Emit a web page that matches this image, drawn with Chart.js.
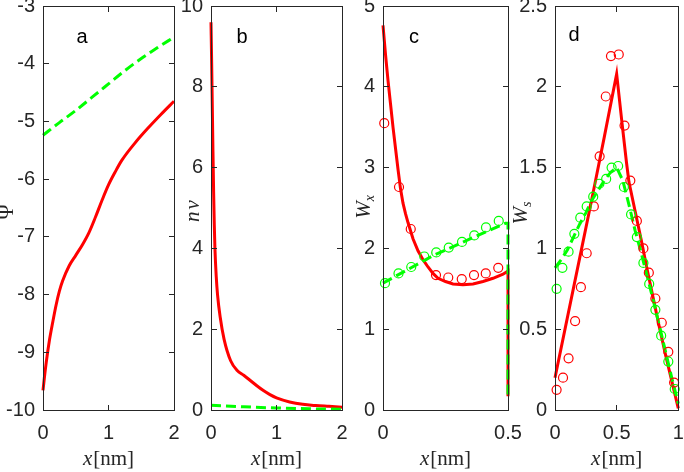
<!DOCTYPE html>
<html>
<head>
<meta charset="utf-8">
<script src="https://cdn.jsdelivr.net/npm/chart.js@4.4.0/dist/chart.umd.min.js"></script>
<style>
  html, body { margin: 0; padding: 0; background: #fff; }
  #wrap { position: relative; width: 684px; height: 472px; }
  #wrap canvas { position: absolute; left: 0; top: 0; }
  #frame { position: absolute; left: 0; top: 0; width: 684px; height: 472px; pointer-events: none; }
  #frame .seg { position: absolute; background: #262626; }
</style>
</head>
<body>
<div id="wrap">
  <canvas id="panelA" width="684" height="472"></canvas>
  <canvas id="panelB" width="684" height="472"></canvas>
  <canvas id="panelC" width="684" height="472"></canvas>
  <canvas id="panelD" width="684" height="472"></canvas>
  <div id="frame"></div>
</div>
<script>
// --- Daten ---
const panelLetters = ['a', 'b', 'c', 'd'];

// Panel a: Psi
const aRedX = [0, 0.02, 0.05, 0.1, 0.15, 0.2, 0.25, 0.3, 0.4, 0.5, 0.6, 0.7, 0.8, 0.9, 1.0, 1.1, 1.2, 1.4, 1.6, 1.8, 2.0];
const aRedY = [-9.66, -9.45, -9.17, -8.78, -8.47, -8.18, -7.94, -7.76, -7.5, -7.32, -7.14, -6.93, -6.66, -6.37, -6.1, -5.88, -5.68, -5.38, -5.12, -4.88, -4.65];
const aGreenX = [0, 0.25, 0.5, 0.75, 1.0, 1.25, 1.5, 1.75, 2.0];
const aGreenY = [-5.24, -5.02, -4.81, -4.58, -4.35, -4.12, -3.91, -3.72, -3.54];
const aXTicks = [0, 1, 2];
const aYTicks = [-10, -9, -8, -7, -6, -5, -4, -3];

// Panel b: nv
const bRedX = [0, 0.01, 0.02, 0.03, 0.04, 0.05, 0.06, 0.08, 0.1, 0.14, 0.2, 0.3, 0.4, 0.5, 0.6, 0.7, 0.8, 0.9, 1.0, 1.2, 1.4, 1.6, 1.8, 2.0];
const bRedY = [9.6, 8.6, 7.5, 6.4, 5.4, 4.6, 4.0, 3.3, 2.85, 2.3, 1.75, 1.22, 0.98, 0.86, 0.73, 0.6, 0.48, 0.38, 0.3, 0.2, 0.14, 0.11, 0.09, 0.07];
const bGreenX = [0, 0.5, 1.0, 1.5, 2.0];
const bGreenY = [0.12, 0.08, 0.05, 0.03, 0.02];
const bXTicks = [0, 1, 2];
const bYTicks = [0, 2, 4, 6, 8, 10];

// Panel c: W_x
const cRedX = [0, 0.01, 0.02, 0.03, 0.04, 0.05, 0.06, 0.07, 0.08, 0.09, 0.1, 0.12, 0.14, 0.16, 0.18, 0.2, 0.22, 0.25, 0.28, 0.32, 0.36, 0.4, 0.44, 0.48, 0.5, 0.5];
const cRedY = [4.76, 4.4, 4.08, 3.79, 3.5, 3.24, 2.98, 2.74, 2.56, 2.43, 2.32, 2.12, 1.97, 1.86, 1.77, 1.69, 1.63, 1.59, 1.56, 1.55, 1.56, 1.59, 1.63, 1.68, 1.72, 0.17];
const cGreenX = [0, 0.1, 0.2, 0.3, 0.4, 0.49, 0.5, 0.5];
const cGreenY = [1.57, 1.74, 1.91, 2.05, 2.19, 2.31, 2.31, 0.17];
const cRedCircX = [0.005, 0.064, 0.111, 0.212, 0.261, 0.315, 0.364, 0.411, 0.461];
const cRedCircY = [3.55, 2.76, 2.24, 1.67, 1.64, 1.62, 1.67, 1.69, 1.76];
const cGreenCircX = [0.008, 0.062, 0.113, 0.165, 0.213, 0.263, 0.316, 0.365, 0.412, 0.463];
const cGreenCircY = [1.57, 1.69, 1.77, 1.90, 1.95, 2.01, 2.08, 2.16, 2.26, 2.34];
const cXTicks = [0, 0.5];
const cYTicks = [0, 1, 2, 3, 4, 5];

// Panel d: W_s
const dRedX = [0, 0.1, 0.2, 0.3, 0.4, 0.5, 0.54, 0.58, 0.6, 0.65, 0.7, 0.75, 0.8, 0.85, 0.9, 0.95, 1.0];
const dRedY = [0.2, 0.57, 0.94, 1.31, 1.69, 2.08, 1.8, 1.53, 1.41, 1.23, 1.05, 0.86, 0.68, 0.5, 0.33, 0.17, 0.01];
const dGreenX = [0, 0.05, 0.1, 0.15, 0.2, 0.25, 0.3, 0.35, 0.4, 0.45, 0.5, 0.55, 0.6, 0.65, 0.7, 0.75, 0.8, 0.85, 0.9, 0.95, 1.0];
const dGreenY = [0.88, 0.93, 0.99, 1.07, 1.15, 1.22, 1.3, 1.36, 1.42, 1.47, 1.5, 1.42, 1.27, 1.11, 0.97, 0.82, 0.67, 0.51, 0.35, 0.19, 0.04];
const dRedCircX = [0.013, 0.065, 0.11, 0.163, 0.21, 0.257, 0.315, 0.362, 0.412, 0.454, 0.517, 0.564, 0.611, 0.664, 0.717, 0.761, 0.814, 0.866, 0.919, 0.966];
const dRedCircY = [0.125, 0.2, 0.32, 0.55, 0.76, 0.97, 1.26, 1.57, 1.94, 2.19, 2.2, 1.76, 1.42, 1.17, 1.0, 0.85, 0.69, 0.54, 0.36, 0.17];
const dGreenCircX = [0.013, 0.06, 0.11, 0.157, 0.205, 0.257, 0.31, 0.36, 0.415, 0.459, 0.512, 0.559, 0.617, 0.664, 0.717, 0.764, 0.814, 0.861, 0.919, 0.971];
const dGreenCircY = [0.75, 0.88, 0.98, 1.09, 1.19, 1.26, 1.32, 1.40, 1.43, 1.50, 1.51, 1.38, 1.21, 1.07, 0.91, 0.78, 0.62, 0.46, 0.30, 0.13];
const dXTicks = [0, 0.5, 1];
const dYTicks = [0, 0.5, 1, 1.5, 2, 2.5];

// --- Stil ---
const RED = '#ff0000';
const GREEN = '#00ff00';
const AXIS = '#262626';
const SERIF = '"Liberation Serif", "DejaVu Serif", serif';
const SANS = '"Liberation Sans", Arial, sans-serif';

Chart.defaults.font.family = SANS;
Chart.defaults.color = AXIS;

const pts = (xs, ys) => xs.map((x, i) => ({ x: x, y: ys[i] }));

function lineSet(xs, ys, color, dashed, order, smooth) {
    return {
        data: pts(xs, ys),
        showLine: true,
        borderColor: color,
        borderWidth: 3,
        borderDash: dashed ? [10, 5] : [],
        pointRadius: 0,
        tension: 0,
        cubicInterpolationMode: smooth ? 'monotone' : 'default',
        clip: false,
        order: order
    };
}

function circleSet(xs, ys, color, order) {
    return {
        data: pts(xs, ys),
        showLine: false,
        borderColor: color,
        pointBorderColor: color,
        pointBackgroundColor: 'rgba(0,0,0,0)',
        pointRadius: 4.5,
        pointBorderWidth: 1.2,
        clip: false,
        order: order
    };
}

// Text mit gemischten Schriften (kursiv / normal / tiefgestellt)
function drawRich(ctx, parts, cx, cy, rotate) {
    ctx.save();
    ctx.translate(cx, cy);
    if (rotate) ctx.rotate(-Math.PI / 2);
    ctx.textBaseline = 'alphabetic';
    ctx.textAlign = 'left';
    ctx.fillStyle = AXIS;
    let total = 0;
    const widths = parts.map(p => { ctx.font = p.font; const w = ctx.measureText(p.text).width + (p.gap || 0); total += w; return w; });
    let x = -total / 2;
    parts.forEach((p, i) => { ctx.font = p.font; ctx.fillText(p.text, x, p.dy || 0); x += widths[i]; });
    ctx.restore();
}

// Achsentitel und Buchstaben (MATLAB-Look)
const matlabText = {
    id: 'matlabText',
    afterDraw(chart, args, o) {
        const ctx = chart.ctx;
        const a = chart.chartArea;
        const mid = (a.left + a.right) / 2;
        // x-Titel
        drawRich(ctx, [
            { text: 'x', font: 'italic 21px ' + SERIF, gap: 1 },
            { text: '[nm]', font: '21px ' + SERIF }
        ], mid, 465, false);
        // y-Titel
        drawRich(ctx, o.yTitle, a.left + o.yBase, (a.top + a.bottom) / 2 + o.yShift, true);
        // Buchstabe
        ctx.save();
        ctx.font = '20px ' + SANS;
        ctx.fillStyle = '#000';
        ctx.textAlign = 'center';
        ctx.textBaseline = 'middle';
        ctx.fillText(o.letter, a.left + o.letterX, o.letterY);
        ctx.restore();
    }
};

function makePanel(id, p) {
    const tickFont = { family: SANS, size: 20 };
    return new Chart(document.getElementById(id), {
        type: 'scatter',
        data: { datasets: p.datasets },
        options: {
            responsive: false,
            animation: false,
            events: [],
            layout: { padding: { left: p.left - 40, right: 684 - p.right, top: 6, bottom: 0 } },
            plugins: {
                legend: { display: false },
                tooltip: { enabled: false },
                matlabText: p.frame
            },
            scales: {
                x: {
                    type: 'linear',
                    min: p.xTicks[0],
                    max: p.xTicks[p.xTicks.length - 1],
                    grid: { display: false, drawTicks: false },
                    border: { display: false },
                    ticks: { font: tickFont, color: AXIS, padding: 11, maxRotation: 0, autoSkip: false,
                             callback: v => String(v) },
                    afterBuildTicks: s => { s.ticks = p.xTicks.map(v => ({ value: v })); },
                    afterFit: s => { s.height = 62; s.paddingLeft = 0; s.paddingRight = 0; }
                },
                y: {
                    type: 'linear',
                    min: p.yTicks[0],
                    max: p.yTicks[p.yTicks.length - 1],
                    grid: { display: false, drawTicks: false },
                    border: { display: false },
                    ticks: { font: tickFont, color: AXIS, padding: 8, autoSkip: false,
                             callback: v => String(v) },
                    afterBuildTicks: s => { s.ticks = p.yTicks.map(v => ({ value: v })); },
                    afterFit: s => { s.width = 40; s.paddingTop = 0; s.paddingBottom = 0; }
                }
            }
        },
        plugins: [matlabText]
    });
}

// Rahmen + Ticks nach innen als DOM-Linien, Lage aus chartArea und Skalen
function addFrame(chart) {
    const host = document.getElementById('frame');
    const a = chart.chartArea;
    const sx = chart.scales.x, sy = chart.scales.y;
    const len = 5;
    const L = Math.floor(a.left), R = Math.floor(a.right);
    const T = Math.floor(a.top), B = Math.floor(a.bottom);
    const seg = (x, y, w, h) => {
        const d = document.createElement('div');
        d.className = 'seg';
        d.style.left = x + 'px';
        d.style.top = y + 'px';
        d.style.width = w + 'px';
        d.style.height = h + 'px';
        host.appendChild(d);
    };
    seg(L, T, R - L + 1, 1);
    seg(L, B, R - L + 1, 1);
    seg(L, T, 1, B - T + 1);
    seg(R, T, 1, B - T + 1);
    sx.ticks.forEach(tk => {
        const px = Math.min(Math.max(Math.floor(sx.getPixelForValue(tk.value)), L), R);
        seg(px, B - len, 1, len);
        seg(px, T + 1, 1, len);
    });
    sy.ticks.forEach(tk => {
        const py = Math.min(Math.max(Math.floor(sy.getPixelForValue(tk.value)), T), B);
        seg(L + 1, py, len, 1);
        seg(R - len, py, len, 1);
    });
}

const charts = [];

charts.push(makePanel('panelA', {
    left: 43, right: 174, xTicks: aXTicks, yTicks: aYTicks,
    datasets: [
        lineSet(aRedX, aRedY, RED, false, 2, true),
        lineSet(aGreenX, aGreenY, GREEN, true, 1, true)
    ],
    frame: { letter: panelLetters[0], letterX: 39, letterY: 37, yBase: -30, yShift: 4,
             yTitle: [{ text: 'Ψ', font: '21px ' + SERIF }] }
}));

charts.push(makePanel('panelB', {
    left: 211, right: 342, xTicks: bXTicks, yTicks: bYTicks,
    datasets: [
        lineSet(bRedX, bRedY, RED, false, 2, true),
        lineSet(bGreenX, bGreenY, GREEN, true, 1, true)
    ],
    frame: { letter: panelLetters[1], letterX: 31, letterY: 37, yBase: -12, yShift: 3,
             yTitle: [{ text: 'n', font: 'italic 21px ' + SERIF, gap: 2 }, { text: 'v', font: 'italic 21px ' + SERIF }] }
}));

charts.push(makePanel('panelC', {
    left: 383, right: 508, xTicks: cXTicks, yTicks: cYTicks,
    datasets: [
        lineSet(cRedX, cRedY, RED, false, 3, false),
        lineSet(cGreenX, cGreenY, GREEN, true, 2, false),
        circleSet(cRedCircX, cRedCircY, RED, 1),
        circleSet(cGreenCircX, cGreenCircY, GREEN, 0)
    ],
    frame: { letter: panelLetters[2], letterX: 31, letterY: 37, yBase: -13, yShift: -1,
             yTitle: [{ text: 'W', font: 'italic 21px ' + SERIF }, { text: 'x', font: 'italic 14px ' + SERIF, dy: 4 }] }
}));

charts.push(makePanel('panelD', {
    left: 555, right: 682, xTicks: dXTicks, yTicks: dYTicks,
    datasets: [
        lineSet(dRedX, dRedY, RED, false, 3, false),
        lineSet(dGreenX, dGreenY, GREEN, true, 2, false),
        circleSet(dRedCircX, dRedCircY, RED, 1),
        circleSet(dGreenCircX, dGreenCircY, GREEN, 0)
    ],
    frame: { letter: panelLetters[3], letterX: 19, letterY: 35, yBase: -28, yShift: 5,
             yTitle: [{ text: 'W', font: 'italic 21px ' + SERIF }, { text: 's', font: 'italic 14px ' + SERIF, dy: 4 }] }
}));

charts.forEach(addFrame);
</script>
</body>
</html>
